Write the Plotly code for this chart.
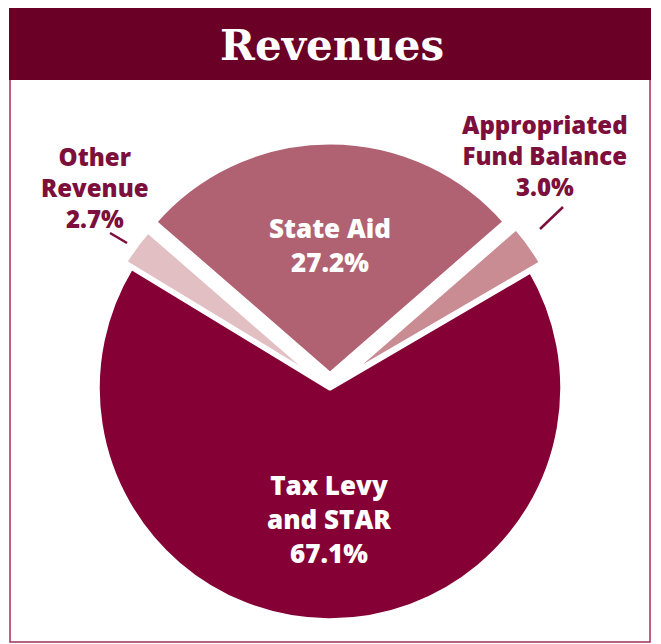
import plotly.graph_objects as go

categories = ["State Aid", "Appropriated Fund Balance", "Tax Levy and STAR", "Other Revenue"]
label_lines = [["State Aid"], ["Appropriated", "Fund Balance"], ["Tax Levy", "and STAR"], ["Other", "Revenue"]]
values = [27.2, 3.0, 67.1, 2.7]
colors = ["#b06272", "#c98c93", "#850035", "#e2bfc3"]
title_text = "Revenues"

# page body has an 8px margin; figure sized to fill the rest of the window
OFF = 8
W, H = 661 - OFF, 644 - OFF

def px(x):
    return (x - OFF) / W

def py(y):
    return 1 - (y - OFF) / H

fig = go.Figure()
fig.add_trace(go.Pie(
    labels=categories,
    values=values,
    sort=False,
    direction="clockwise",
    rotation=-49,
    textinfo="none",
    marker=dict(colors=colors, line=dict(color="white", width=5)),
    pull=[0.057, 0.057, 0, 0.035],
    hoverinfo="label+percent",
    showlegend=False,
    domain=dict(x=[px(84), px(576)], y=[py(634), py(142)]),
))

# Title bar and frame
fig.add_shape(type="rect", xref="paper", yref="paper",
              x0=px(10), x1=px(650), y0=py(642), y1=py(8),
              line=dict(color="#a0305a", width=1.5), fillcolor="rgba(0,0,0,0)", layer="below")
fig.add_shape(type="rect", xref="paper", yref="paper",
              x0=px(9), x1=px(651), y0=py(80), y1=py(8),
              line=dict(width=0), fillcolor="#6b0027", layer="below")
fig.add_annotation(xref="paper", yref="paper", x=px(332), y=py(46),
                   text=title_text, showarrow=False,
                   font=dict(family="DejaVu Serif", size=42, color="white", weight=800),
                   xanchor="center", yanchor="middle")

label_color = "#7c0f3b"
# label placement: (x centre, y centre of block, colour, size) per slice
label_layout = [
    (330, 245, "white", 26),
    (545, 155, label_color, 24),
    (329, 519, "white", 26),
    (95, 187, label_color, 24),
]
for lines, val, (lx, ly, col, size) in zip(label_lines, values, label_layout):
    block = "<br>".join(lines + [f"{val:.1f}%"])
    fig.add_annotation(xref="paper", yref="paper", x=px(lx), y=py(ly),
                       text=block, showarrow=False, align="center",
                       font=dict(family="Open Sans", size=size, color=col, weight=800),
                       xanchor="center", yanchor="middle")

# Leader lines for the small slices
fig.add_shape(type="line", xref="paper", yref="paper",
              x0=px(110), y0=py(233), x1=px(127), y1=py(243),
              line=dict(color=label_color, width=2.5))
fig.add_shape(type="line", xref="paper", yref="paper",
              x0=px(540), y0=py(229), x1=px(563), y1=py(207),
              line=dict(color=label_color, width=2.5))

fig.update_layout(
    width=W, height=H,
    margin=dict(l=0, r=0, t=0, b=0),
    paper_bgcolor="white",
    plot_bgcolor="white",
)

fig.write_html("out.html")
